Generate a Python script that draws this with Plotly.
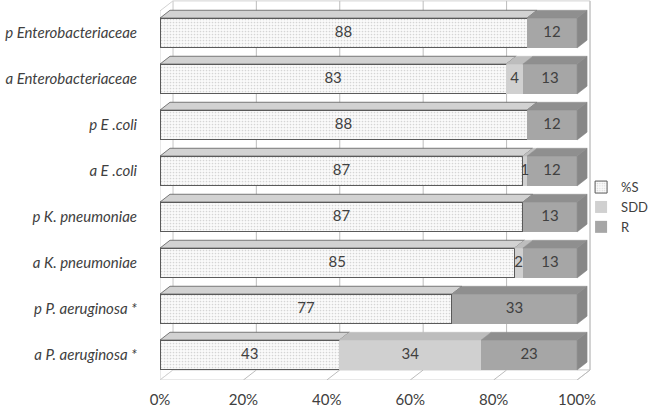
import plotly.graph_objects as go

# ---- data (top -> bottom as in the chart) ----
categories = ["p Enterobacteriaceae", "a Enterobacteriaceae", "p E .coli", "a E .coli",
              "p K. pneumoniae", "a K. pneumoniae", "p P. aeruginosa *", "a P. aeruginosa *"]
s_vals = [88, 83, 88, 87, 87, 85, 77, 43]
sdd_vals = [0, 4, 0, 1, 0, 2, 0, 34]
r_vals = [12, 13, 12, 12, 13, 13, 33, 23]
series_names = ["%S", "SDD", "R"]
x_ticks = [0, 20, 40, 60, 80, 100]
x_ticktext = ["0%", "20%", "40%", "60%", "80%", "100%"]

# ---- styling ----
FONT = "Lato"
TXT = "#404040"
front_cols = ["#f4f4f4", "#d0d0d0", "#a6a6a6"]
top_cols = ["#d2d2d2", "#bdbdbd", "#8f8f8f"]
side_col = "#878787"
grid_col = "#bcbcbc"
wall_col = "#d2d2d2"

n = len(categories)
ypos = list(range(n - 1, -1, -1))  # top category gets highest y
series = [s_vals, sdd_vals, r_vals]

BAR_W = 0.65
DXB, DYB = 2.4, 0.17     # bar depth (data units)
DXW, DYW = 3.1, 0.217    # wall depth
Y_BOT, Y_TOP = -0.543, 7.718
X_MAX = 104.3

fig = go.Figure()

# front faces (100% stacked, normalised by plotly barnorm)
for k, (name, vals) in enumerate(zip(series_names, series)):
    marker = dict(color=front_cols[k], line=dict(width=0))
    if k == 0:
        marker = dict(color="#ffffff",
                      pattern=dict(shape=".", fgcolor="#b0b0b0", bgcolor="#fafafa",
                                   size=3, solidity=0.25),
                      line=dict(color="#5a5a5a", width=1))
    fig.add_trace(go.Bar(name=name, y=ypos, x=vals, orientation="h", width=BAR_W,
                         marker=marker, hoverinfo="skip"))

# normalised segment positions for 3D faces and labels
tops = {0: ([], []), 1: ([], []), 2: ([], [])}
side_x, side_y = [], []
lab_x, lab_y, lab_t = [], [], []
for i in range(n):
    tot = s_vals[i] + sdd_vals[i] + r_vals[i]
    base = 0.0
    yc = ypos[i]
    yt = yc + BAR_W / 2
    yb = yc - BAR_W / 2
    last_end = None
    for k in range(3):
        v = series[k][i]
        if v == 0:
            continue
        w = v / tot * 100
        x0, x1 = base, base + w
        xs, ys = tops[k]
        xs += [x0, x1, x1 + DXB, x0 + DXB, x0, None]
        ys += [yt, yt, yt + DYB, yt + DYB, yt, None]
        lab_x.append((x0 + x1) / 2)
        lab_y.append(yc)
        lab_t.append(str(v))
        base = x1
        last_end = x1
    side_x += [last_end, last_end + DXB, last_end + DXB, last_end, last_end, None]
    side_y += [yb, yb + DYB, yt + DYB, yt, yb, None]

for k in range(3):
    xs, ys = tops[k]
    fig.add_trace(go.Scatter(x=xs, y=ys, mode="lines", fill="toself",
                             fillcolor=top_cols[k],
                             line=dict(color="#5a5a5a" if k == 0 else top_cols[k],
                                       width=0.8 if k == 0 else 0.5),
                             showlegend=False, hoverinfo="skip"))
fig.add_trace(go.Scatter(x=side_x, y=side_y, mode="lines", fill="toself",
                         fillcolor=side_col, line=dict(color=side_col, width=0.5),
                         showlegend=False, hoverinfo="skip"))

fig.add_trace(go.Scatter(x=lab_x, y=lab_y, mode="text", text=lab_t,
                         textfont=dict(family=FONT, size=15, color=TXT),
                         showlegend=False, hoverinfo="skip", cliponaxis=False))

# ---- walls, floor and gridlines ----
shapes = []
shapes.append(dict(type="rect", xref="x", yref="y", x0=DXW, x1=100 + DXW,
                   y0=Y_BOT + DYW, y1=Y_TOP - 0.02, line=dict(color=wall_col, width=1),
                   fillcolor="white", layer="below"))
shapes.append(dict(type="path", xref="x", yref="y",
                   path=f"M 0,{Y_BOT} L 0,{Y_TOP - 0.02 - DYW} L {DXW},{Y_TOP - 0.02} L {DXW},{Y_BOT + DYW} Z",
                   line=dict(color=wall_col, width=1), fillcolor="white", layer="below"))
shapes.append(dict(type="path", xref="x", yref="y",
                   path=f"M 0,{Y_BOT} L 100,{Y_BOT} L {100 + DXW},{Y_BOT + DYW} L {DXW},{Y_BOT + DYW} Z",
                   line=dict(color=wall_col, width=1), fillcolor="white", layer="below"))
for v in x_ticks[1:]:
    shapes.append(dict(type="line", xref="x", yref="y", x0=v + DXW, x1=v + DXW,
                       y0=Y_BOT + DYW, y1=Y_TOP - 0.02,
                       line=dict(color=grid_col, width=1), layer="below"))
    shapes.append(dict(type="line", xref="x", yref="y", x0=v, x1=v + DXW,
                       y0=Y_BOT, y1=Y_BOT + DYW,
                       line=dict(color=grid_col, width=1), layer="below"))

fig.update_layout(
    width=650, height=407,
    margin=dict(l=160, r=55, t=0, b=27, autoexpand=False),
    paper_bgcolor="white", plot_bgcolor="white",
    barmode="stack", barnorm="percent",
    shapes=shapes,
    font=dict(family=FONT, color=TXT, size=14),
    showlegend=True,
    legend=dict(x=0.968, xanchor="left", y=0.455, yanchor="middle",
                traceorder="normal", font=dict(family=FONT, size=13, color=TXT),
                bgcolor="rgba(0,0,0,0)", itemwidth=30, borderwidth=0),
    xaxis=dict(range=[0, X_MAX], tickvals=x_ticks, ticktext=x_ticktext,
               showgrid=False, zeroline=False, showline=False, automargin=False,
               ticks="outside", ticklen=6, tickcolor="rgba(0,0,0,0)",
               tickfont=dict(family=FONT, size=15, color=TXT), fixedrange=True),
    yaxis=dict(range=[Y_BOT, Y_TOP], tickvals=ypos, ticktext=categories,
               showgrid=False, zeroline=False, showline=False, automargin=False,
               ticks="outside", ticklen=19, tickcolor="rgba(0,0,0,0)",
               tickfont=dict(family=FONT, size=15, color=TXT, style="italic"),
               fixedrange=True),
)

fig.write_html("out.html", config={"displayModeBar": False},
               post_script="document.body.style.margin='0';document.body.style.overflow='hidden';")
